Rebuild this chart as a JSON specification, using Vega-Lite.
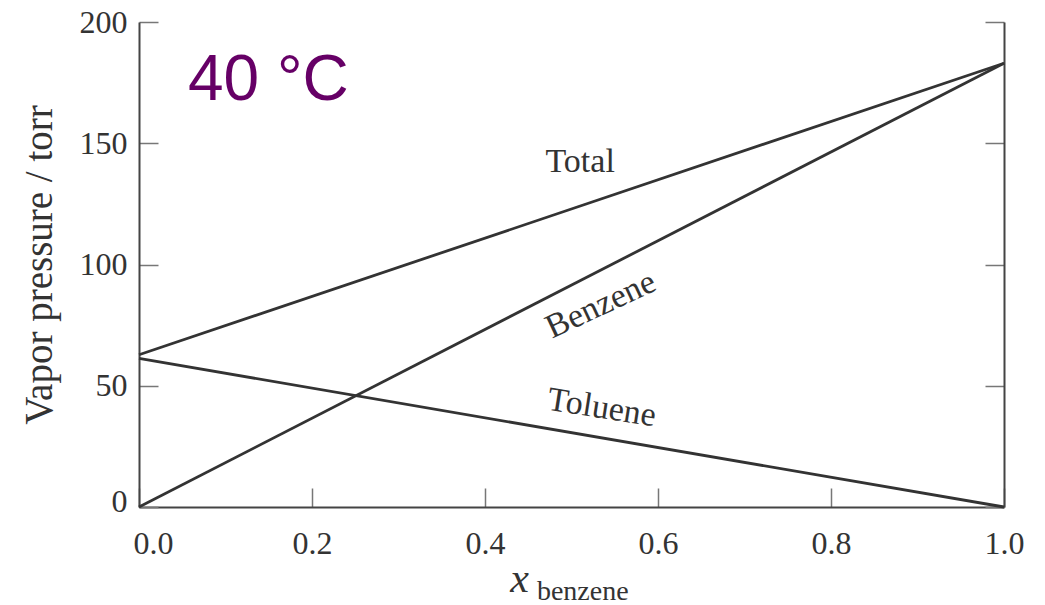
{
  "$schema": "https://vega.github.io/schema/vega-lite/v6.json",
  "width": 865,
  "height": 485,
  "autosize": "none",
  "padding": {"left": 139, "top": 22, "right": 41, "bottom": 98},
  "background": "white",
  "config": {"view": {"stroke": null}},
  "datasets": {
    "lines": [
      {"x": 0, "p": 0, "series": "Benzene"},
      {"x": 1, "p": 183, "series": "Benzene"},
      {"x": 0, "p": 61.3, "series": "Toluene"},
      {"x": 1, "p": 0, "series": "Toluene"},
      {"x": 0, "p": 62.8, "series": "Total"},
      {"x": 1, "p": 183, "series": "Total"}
    ],
    "labels": [
      {"label": "Total", "x": 0.51, "p": 138.1},
      {"label": "Benzene", "x": 0.534, "p": 83.3},
      {"label": "Toluene", "x": 0.535, "p": 40.8},
      {"label": "40 °C", "x": 0.0566, "p": 167.8},
      {"label": "x", "x": 0.44, "p": -35},
      {"label": "benzene", "x": 0.513, "p": -38.2}
    ]
  },
  "resolve": {"axis": {"y": "independent", "x": "independent"}},
  "layer": [
    {
      "data": {"name": "lines"},
      "mark": {"type": "line", "color": "#333333", "strokeWidth": 2.8, "strokeCap": "butt", "clip": false},
      "encoding": {
        "x": {
          "field": "x", "type": "quantitative",
          "scale": {"domain": [0, 1], "nice": false, "zero": false},
          "axis": {
            "orient": "bottom", "values": [0, 0.2, 0.4, 0.6, 0.8, 1], "format": ".1f",
            "title": null, "grid": false, "labelFlush": false,
            "tickSize": -19, "tickColor": "#777777", "tickWidth": 1.5,
            "domainColor": "#444444", "domainWidth": 2,
            "labelFont": "Liberation Serif", "labelFontSize": 32, "labelColor": "#333333",
            "labelPadding": 40,
            "labelOffset": {"condition": {"test": "datum.value == 0", "value": 14}, "value": 0}
          }
        },
        "y": {
          "field": "p", "type": "quantitative",
          "scale": {"domain": [0, 200], "nice": false, "zero": false},
          "axis": {
            "orient": "left", "values": [0, 50, 100, 150, 200], "grid": false, "labelFlush": false,
            "tickSize": -19, "tickColor": "#777777", "tickWidth": 1.5,
            "domainColor": "#444444", "domainWidth": 2,
            "labelFont": "Liberation Serif", "labelFontSize": 32, "labelColor": "#333333",
            "labelPadding": 31,
            "labelOffset": {"condition": {"test": "datum.value == 0", "value": -6}, "value": 0},
            "title": "Vapor pressure / torr",
            "titleFont": "Liberation Serif", "titleFontSize": 39, "titleFontWeight": "normal",
            "titleColor": "#333333", "titlePadding": 20
          }
        },
        "detail": {"field": "series", "type": "nominal"}
      }
    },
    {
      "data": {"name": "labels"},
      "transform": [{"filter": "datum.label == 'Total'"}],
      "mark": {"type": "text", "font": "Liberation Serif", "fontSize": 34, "color": "#333333", "align": "center", "baseline": "alphabetic"},
      "encoding": {
        "x": {"field": "x", "type": "quantitative", "axis": null},
        "y": {
          "field": "p", "type": "quantitative",
          "axis": {
            "orient": "right", "values": [0, 50, 100, 150, 200], "grid": false, "labels": false, "title": null,
            "tickSize": -19, "tickColor": "#777777", "tickWidth": 1.5,
            "domainColor": "#444444", "domainWidth": 2
          }
        },
        "text": {"field": "label"}
      }
    },
    {
      "data": {"name": "labels"},
      "transform": [{"filter": "datum.label == 'Benzene'"}],
      "mark": {"type": "text", "font": "Liberation Serif", "fontSize": 34, "color": "#333333", "align": "center", "baseline": "middle", "angle": -25},
      "encoding": {
        "x": {"field": "x", "type": "quantitative", "axis": null},
        "y": {"field": "p", "type": "quantitative", "axis": null},
        "text": {"field": "label"}
      }
    },
    {
      "data": {"name": "labels"},
      "transform": [{"filter": "datum.label == 'Toluene'"}],
      "mark": {"type": "text", "font": "Liberation Serif", "fontSize": 34, "color": "#333333", "align": "center", "baseline": "middle", "angle": 9},
      "encoding": {
        "x": {"field": "x", "type": "quantitative", "axis": null},
        "y": {"field": "p", "type": "quantitative", "axis": null},
        "text": {"field": "label"}
      }
    },
    {
      "data": {"name": "labels"},
      "transform": [{"filter": "datum.label == '40 °C'"}],
      "mark": {"type": "text", "font": "Liberation Sans", "fontSize": 64, "color": "#660066", "align": "left", "baseline": "alphabetic"},
      "encoding": {
        "x": {"field": "x", "type": "quantitative", "axis": null},
        "y": {"field": "p", "type": "quantitative", "axis": null},
        "text": {"field": "label"}
      }
    },
    {
      "data": {"name": "labels"},
      "transform": [{"filter": "datum.label == 'x'"}],
      "mark": {"type": "text", "font": "Liberation Serif", "fontSize": 42, "fontStyle": "italic", "color": "#333333", "align": "center", "baseline": "alphabetic", "clip": false},
      "encoding": {
        "x": {"field": "x", "type": "quantitative", "axis": null},
        "y": {"field": "p", "type": "quantitative", "axis": null},
        "text": {"field": "label"}
      }
    },
    {
      "data": {"name": "labels"},
      "transform": [{"filter": "datum.label == 'benzene'"}],
      "mark": {"type": "text", "font": "Liberation Serif", "fontSize": 28, "color": "#333333", "align": "center", "baseline": "alphabetic", "clip": false},
      "encoding": {
        "x": {"field": "x", "type": "quantitative", "axis": null},
        "y": {"field": "p", "type": "quantitative", "axis": null},
        "text": {"field": "label"}
      }
    }
  ]
}
